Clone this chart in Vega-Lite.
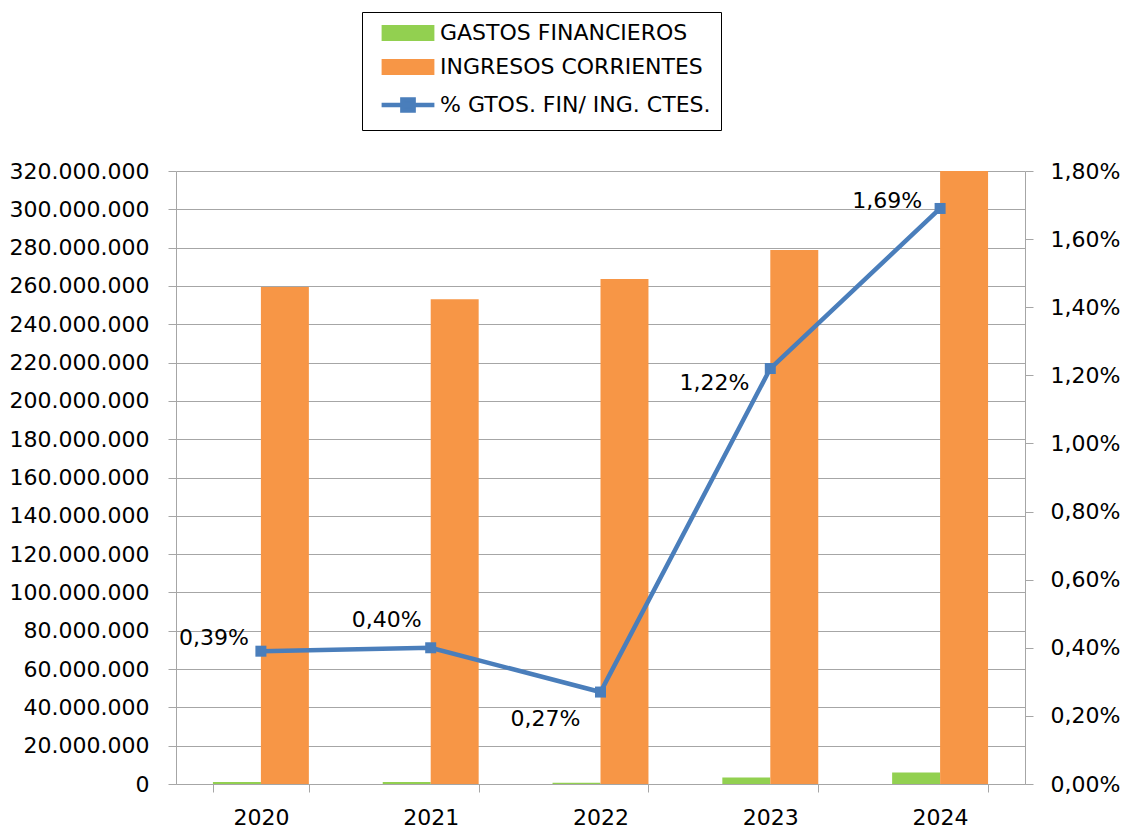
{
  "$schema": "https://vega.github.io/schema/vega-lite/v6.json",
  "width": 849,
  "height": 613,
  "autosize": {"type": "none"},
  "padding": {"left": 176, "top": 171, "right": 99, "bottom": 45},
  "background": "white",
  "config": {
    "locale": {"number": {"decimal": ",", "thousands": ".", "grouping": [3], "currency": ["", " €"]}},
    "font": "DejaVu Sans",
    "view": {"stroke": null},
    "axis": {
      "labelFont": "DejaVu Sans",
      "labelFontSize": 22,
      "labelColor": "black",
      "domainColor": "#A6A6A6",
      "tickColor": "#A6A6A6",
      "gridColor": "#A6A6A6",
      "domainWidth": 1,
      "tickWidth": 1,
      "gridWidth": 1,
      "tickSize": 8,
      "title": null
    }
  },
  "datasets": {
    "bars": [
      {"year": "2020", "series": "GASTOS FINANCIEROS", "value": 1010000},
      {"year": "2020", "series": "INGRESOS CORRIENTES", "value": 259400000},
      {"year": "2021", "series": "GASTOS FINANCIEROS", "value": 1010000},
      {"year": "2021", "series": "INGRESOS CORRIENTES", "value": 253100000},
      {"year": "2022", "series": "GASTOS FINANCIEROS", "value": 710000},
      {"year": "2022", "series": "INGRESOS CORRIENTES", "value": 263600000},
      {"year": "2023", "series": "GASTOS FINANCIEROS", "value": 3400000},
      {"year": "2023", "series": "INGRESOS CORRIENTES", "value": 278700000},
      {"year": "2024", "series": "GASTOS FINANCIEROS", "value": 6000000},
      {"year": "2024", "series": "INGRESOS CORRIENTES", "value": 355000000}
    ],
    "pct": [
      {"year": "2020", "pct": 0.0039},
      {"year": "2021", "pct": 0.0040},
      {"year": "2022", "pct": 0.0027},
      {"year": "2023", "pct": 0.0122},
      {"year": "2024", "pct": 0.0169}
    ]
  },
  "layer": [
    {
      "data": {"name": "bars"},
      "mark": {"type": "bar", "clip": true},
      "encoding": {
        "x": {
          "field": "year", "type": "nominal",
          "scale": {"paddingInner": 0.435, "paddingOuter": 0.2175},
          "axis": {"labelAngle": 0, "tickBand": "extent", "labelPadding": 15, "grid": false}
        },
        "xOffset": {
          "field": "series", "type": "nominal",
          "scale": {"domain": ["GASTOS FINANCIEROS", "INGRESOS CORRIENTES"], "paddingInner": 0, "paddingOuter": 0}
        },
        "y": {
          "field": "value", "type": "quantitative",
          "scale": {"domain": [0, 320000000], "nice": false},
          "axis": {
            "values": [0, 20000000, 40000000, 60000000, 80000000, 100000000, 120000000, 140000000, 160000000, 180000000, 200000000, 220000000, 240000000, 260000000, 280000000, 300000000, 320000000],
            "format": ",.0f",
            "grid": true,
            "labelPadding": 19
          }
        },
        "color": {
          "field": "series", "type": "nominal",
          "scale": {
            "domain": ["GASTOS FINANCIEROS", "INGRESOS CORRIENTES", "% GTOS. FIN/ ING. CTES."],
            "range": ["#92D050", "#F79646", "#4A7EBB"]
          },
          "legend": {
            "orient": "none",
            "legendX": 186,
            "legendY": -159,
            "title": null,
            "strokeColor": "black",
            "fillColor": "white",
            "padding": 10,
            "symbolType": "M-3.3,-1H3.3V1H-3.3Z",
            "symbolSize": 256,
            "symbolOffset": 25,
            "symbolOpacity": 1,
            "labelFont": "DejaVu Sans",
            "labelFontSize": 22,
            "labelColor": "black",
            "labelOffset": 21,
            "labelLimit": 500,
            "rowPadding": 12,
            "encode": {
              "symbols": {
                "update": {
                  "shape": {"signal": "datum.value === '% GTOS. FIN/ ING. CTES.' ? 'M-3.3,0H3.3M-0.7,-0.7H0.7V0.7H-0.7Z' : 'M-3.3,-1H3.3V1H-3.3Z'"},
                  "strokeWidth": {"signal": "datum.value === '% GTOS. FIN/ ING. CTES.' ? 4.5 : 0"},
                  "stroke": {"signal": "scale('color', datum.value)"},
                  "fill": {"signal": "scale('color', datum.value)"}
                }
              }
            }
          }
        }
      }
    },
    {
      "data": {"name": "pct"},
      "encoding": {
        "x": {"field": "year", "type": "nominal"},
        "y": {
          "field": "pct", "type": "quantitative",
          "scale": {"domain": [0, 0.018], "nice": false},
          "axis": {
            "orient": "right",
            "values": [0, 0.002, 0.004, 0.006, 0.008, 0.010, 0.012, 0.014, 0.016, 0.018],
            "format": ".2%",
            "grid": false,
            "labelPadding": 17
          }
        }
      },
      "layer": [
        {
          "mark": {"type": "line", "strokeWidth": 4.5, "point": {"shape": "square", "size": 121, "filled": true}},
          "encoding": {"color": {"datum": "% GTOS. FIN/ ING. CTES."}}
        },
        {
          "transform": [{"filter": "datum.year === '2020'"}],
          "mark": {"type": "text", "align": "right", "baseline": "middle", "dx": -12, "dy": -13, "fontSize": 22, "font": "DejaVu Sans", "color": "black"},
          "encoding": {"text": {"field": "pct", "type": "quantitative", "format": ".2%"}}
        },
        {
          "transform": [{"filter": "datum.year === '2021'"}],
          "mark": {"type": "text", "align": "right", "baseline": "middle", "dx": -9, "dy": -28, "fontSize": 22, "font": "DejaVu Sans", "color": "black"},
          "encoding": {"text": {"field": "pct", "type": "quantitative", "format": ".2%"}}
        },
        {
          "transform": [{"filter": "datum.year === '2022'"}],
          "mark": {"type": "text", "align": "right", "baseline": "middle", "dx": -20, "dy": 27, "fontSize": 22, "font": "DejaVu Sans", "color": "black"},
          "encoding": {"text": {"field": "pct", "type": "quantitative", "format": ".2%"}}
        },
        {
          "transform": [{"filter": "datum.year === '2023'"}],
          "mark": {"type": "text", "align": "right", "baseline": "middle", "dx": -21, "dy": 14, "fontSize": 22, "font": "DejaVu Sans", "color": "black"},
          "encoding": {"text": {"field": "pct", "type": "quantitative", "format": ".2%"}}
        },
        {
          "transform": [{"filter": "datum.year === '2024'"}],
          "mark": {"type": "text", "align": "right", "baseline": "middle", "dx": -18, "dy": -7, "fontSize": 22, "font": "DejaVu Sans", "color": "black"},
          "encoding": {"text": {"field": "pct", "type": "quantitative", "format": ".2%"}}
        }
      ]
    }
  ],
  "resolve": {"scale": {"y": "independent"}}
}
